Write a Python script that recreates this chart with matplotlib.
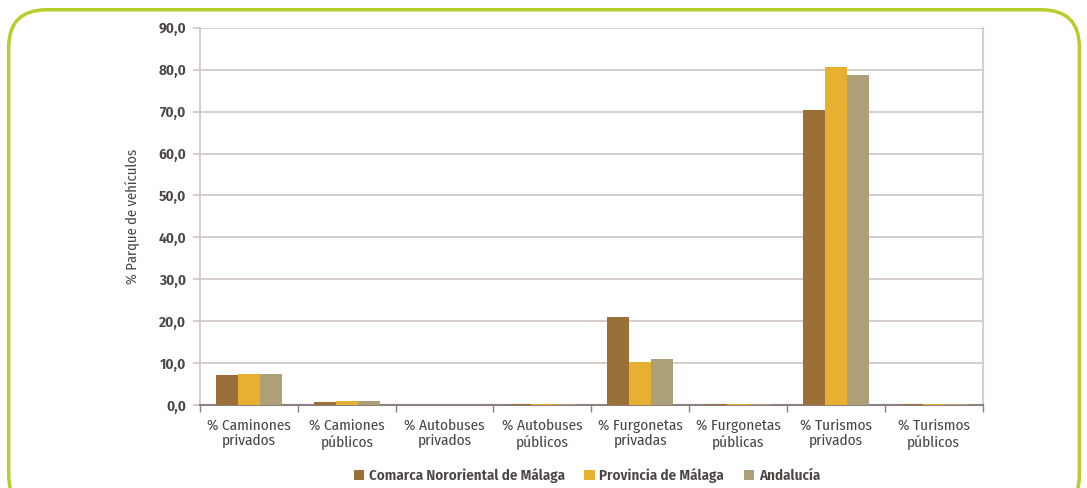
import matplotlib
matplotlib.use("Agg")
import matplotlib.pyplot as plt
import numpy as np
from matplotlib.patches import FancyBboxPatch

categories = ["% Caminones\nprivados", "% Camiones\npúblicos", "% Autobuses\nprivados",
              "% Autobuses\npúblicos", "% Furgonetas\nprivadas", "% Furgonetas\npúblicas",
              "% Turismos\nprivados", "% Turismos\npúblicos"]
comarca = [7.1, 0.8, 0.05, 0.2, 21.0, 0.2, 70.4, 0.2]
provincia = [7.4, 1.0, 0.05, 0.2, 10.3, 0.2, 80.7, 0.2]
andalucia = [7.4, 1.0, 0.05, 0.2, 11.0, 0.2, 78.8, 0.2]
series_names = ["Comarca Nororiental de Málaga", "Provincia de Málaga", "Andalucía"]
colors = ["#9a7038", "#e8b030", "#ad9f78"]

plt.rcParams["font.family"] = ["Fira Sans Condensed", "DejaVu Sans"]
text_color = "#4a4444"

fig = plt.figure(figsize=(10.87, 4.88), dpi=100)
ax = fig.add_axes([0.184, 0.170, 0.720, 0.773])

# rounded green frame around the chart
frame = FancyBboxPatch((0.008, -0.05), 0.985, 1.03, boxstyle="round,pad=0,rounding_size=0.035",
                       transform=fig.transFigure, fill=False, edgecolor="#b8cc2c",
                       linewidth=2.5, mutation_aspect=2.2)
fig.patches.append(frame)

x = np.arange(len(categories))
w = 0.225
for i, (vals, name, c) in enumerate(zip([comarca, provincia, andalucia], series_names, colors)):
    ax.bar(x + (i - 1) * w, vals, width=w, color=c, label=name, zorder=3)

ax.set_xlim(-0.5, len(categories) - 0.5)
ax.set_ylim(0, 90)
ax.set_yticks(np.arange(0, 91, 10))
ax.set_yticklabels([f"{v:.1f}".replace(".", ",") for v in np.arange(0, 91, 10)],
                   fontsize=11, fontweight="semibold", color=text_color)
ax.yaxis.grid(True, color="#cfc4c0", linewidth=1.2, zorder=0)
ax.set_axisbelow(True)

ax.set_xticks(x)
ax.set_xticklabels(categories, fontsize=11, color=text_color, linespacing=1.1)
ax.set_xticks(np.arange(-0.5, len(categories) + 0.5, 1), minor=True)
ax.tick_params(axis="x", which="major", length=0, pad=10)
ax.tick_params(axis="x", which="minor", length=5, color="#8a8080", width=1)
ax.tick_params(axis="y", length=5, color="#cfc4c0", width=1.2, pad=5)

ax.spines["top"].set_visible(False)
for s in ["left", "right"]:
    ax.spines[s].set_color("#cfc4c0")
    ax.spines[s].set_linewidth(1.2)
ax.spines["bottom"].set_color("#8a8080")
ax.spines["bottom"].set_linewidth(1.5)

ax.set_ylabel("% Parque de vehículos", fontsize=10.5, color=text_color, labelpad=14)

leg = fig.legend(loc="center", bbox_to_anchor=(0.54, 0.025), ncol=3, frameon=False,
                 handlelength=0.7, handleheight=0.7, handletextpad=0.3,
                 columnspacing=1.3, prop={"weight": "semibold", "size": 10.8})
for t in leg.get_texts():
    t.set_color(text_color)

fig.savefig("out.png", dpi=100)
plt.close(fig)
